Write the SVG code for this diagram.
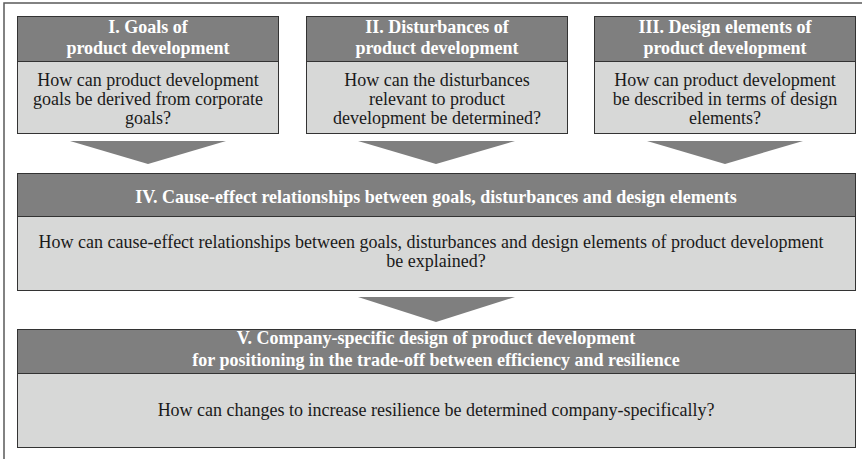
<svg xmlns="http://www.w3.org/2000/svg" width="862" height="459" viewBox="0 0 862 459" font-family="'Liberation Serif', 'Times New Roman', Times, serif">
  <style>
    .frame { fill: none; stroke: #5a5a5a; stroke-width: 1.5; }
    .head { fill: #7f7f7f; stroke: #333333; stroke-width: 1; }
    .body { fill: #d7d8d7; stroke: #333333; stroke-width: 1; }
    .arrow { fill: #7f7f7f; stroke: none; }
    text { font-size: 18px; text-anchor: middle; }
    .title { fill: #ffffff; font-weight: bold; }
    .q { fill: #1a1a1a; }
  </style>

  <!-- outer frame -->
  <rect class="frame" x="4" y="3" width="870" height="470"/>

  <!-- block I -->
  <g id="goals">
    <rect class="body" x="17.5" y="61.5" width="261" height="72"/>
    <rect class="head" x="17.5" y="16.5" width="261" height="45"/>
    <text class="title" x="148" y="33">I. Goals of</text>
    <text class="title" x="148" y="54">product development</text>
    <text class="q" x="148" y="86">How can product development</text>
    <text class="q" x="148" y="105">goals be derived from corporate</text>
    <text class="q" x="148" y="124">goals?</text>
  </g>

  <!-- block II -->
  <g id="disturbances">
    <rect class="body" x="306.5" y="61.5" width="261" height="72"/>
    <rect class="head" x="306.5" y="16.5" width="261" height="45"/>
    <text class="title" x="437" y="33">II. Disturbances of</text>
    <text class="title" x="437" y="54">product development</text>
    <text class="q" x="437" y="86">How can the disturbances</text>
    <text class="q" x="437" y="105">relevant to product</text>
    <text class="q" x="437" y="124">development be determined?</text>
  </g>

  <!-- block III -->
  <g id="design-elements">
    <rect class="body" x="594.5" y="61.5" width="261" height="72"/>
    <rect class="head" x="594.5" y="16.5" width="261" height="45"/>
    <text class="title" x="725" y="33">III. Design elements of</text>
    <text class="title" x="725" y="54">product development</text>
    <text class="q" x="725" y="86">How can product development</text>
    <text class="q" x="725" y="105">be described in terms of design</text>
    <text class="q" x="725" y="124">elements?</text>
  </g>

  <!-- block IV -->
  <g id="cause-effect">
    <rect class="body" x="17.5" y="216.5" width="838" height="74"/>
    <rect class="head" x="17.5" y="173.5" width="838" height="43"/>
    <text class="title" x="436" y="203">IV. Cause-effect relationships between goals, disturbances and design elements</text>
    <text class="q" x="431" y="248">How can cause-effect relationships between goals, disturbances and design elements of product development</text>
    <text class="q" x="436" y="267">be explained?</text>
  </g>

  <!-- block V -->
  <g id="company-specific">
    <rect class="body" x="17.5" y="373.5" width="838" height="74"/>
    <rect class="head" x="17.5" y="329.5" width="838" height="44"/>
    <text class="title" x="436" y="344">V. Company-specific design of product development</text>
    <text class="title" x="436" y="366">for positioning in the trade-off between efficiency and resilience</text>
    <text class="q" x="436" y="416">How can changes to increase resilience be determined company-specifically?</text>
  </g>

  <!-- connectors -->
  <g id="connectors">
    <polygon class="arrow" points="70,141 226,141 148,164"/>
    <polygon class="arrow" points="358,141 515,141 436,164"/>
    <polygon class="arrow" points="647,141 803,141 725,164"/>
    <polygon class="arrow" points="358,297 515,297 436,322"/>
  </g>
</svg>
